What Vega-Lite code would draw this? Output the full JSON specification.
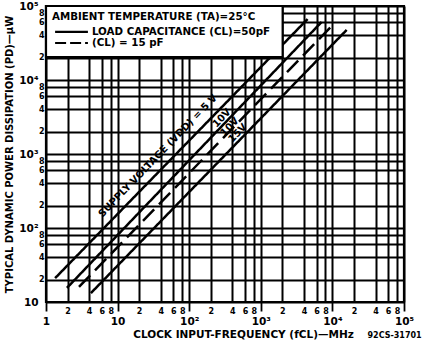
{
  "$schema": "https://vega.github.io/schema/vega-lite/v6.json",
  "width": 358,
  "height": 296,
  "autosize": "none",
  "padding": {"left": 46, "top": 6, "right": 34, "bottom": 45},
  "background": "white",
  "config": {
    "view": {"stroke": "black", "strokeWidth": 2.2},
    "font": "DejaVu Sans",
    "text": {"font": "DejaVu Sans", "fontWeight": "bold", "color": "black"}
  },
  "layer": [
    {
      "data": {"values": [
        {"id": "5V", "cap": "50pF", "f": 1.34, "p": 21},
        {"id": "5V", "cap": "50pF", "f": 4510, "p": 66700},
        {"id": "10V-50", "cap": "50pF", "f": 1.96, "p": 15.5},
        {"id": "10V-50", "cap": "50pF", "f": 7070, "p": 60800},
        {"id": "10V-15", "cap": "15pF", "f": 2.89, "p": 16},
        {"id": "10V-15", "cap": "15pF", "f": 10070, "p": 55300},
        {"id": "15V", "cap": "50pF", "f": 4.24, "p": 13.2},
        {"id": "15V", "cap": "50pF", "f": 15800, "p": 47400}
      ]},
      "mark": {"type": "line", "color": "black", "strokeWidth": 2.5, "clip": true},
      "encoding": {
        "x": {
          "field": "f", "type": "quantitative",
          "scale": {"type": "log", "domain": [1, 100000], "nice": false},
          "axis": {
            "values": [1,2,4,6,8,10,20,40,60,80,100,200,400,600,800,1000,2000,4000,6000,8000,10000,20000,40000,60000,80000,100000],
            "grid": true, "gridColor": "black", "gridWidth": 2, "gridOpacity": 1,
            "domain": false,
            "ticks": true, "tickSize": 9, "tickColor": "black", "tickWidth": 1.8,
            "tickOpacity": {"condition": {"test": "indexof([1,10,100,1000,10000,100000], datum.value) >= 0", "value": 1}, "value": 0},
            "labelExpr": "datum.value==1?'1':datum.value==10?'10':datum.value==100?'10²':datum.value==1000?'10³':datum.value==10000?'10⁴':datum.value==100000?'10⁵':slice(toString(datum.value),0,1)",
            "labelFont": "DejaVu Sans", "labelFontWeight": "bold", "labelColor": "black",
            "labelFontSize": {"condition": {"test": "indexof([1,10,100,1000,10000,100000], datum.value) >= 0", "value": 10.5}, "value": 8},
            "labelPadding": {"condition": {"test": "indexof([1,10,100,1000,10000,100000], datum.value) >= 0", "value": 5}, "value": -4},
            "labelFlush": false, "labelOverlap": false, "labelBound": false,
            "title": "CLOCK INPUT-FREQUENCY (fCL)—MHz",
            "titleFont": "DejaVu Sans", "titleFontWeight": "bold", "titleFontSize": 10.5, "titleColor": "black",
            "titleX": 197, "titleY": 32, "titleBaseline": "middle", "titleAnchor": null
          }
        },
        "y": {
          "field": "p", "type": "quantitative",
          "scale": {"type": "log", "domain": [10, 100000], "nice": false},
          "axis": {
            "values": [10,20,40,60,80,100,200,400,600,800,1000,2000,4000,6000,8000,10000,20000,40000,60000,80000,100000],
            "grid": true, "gridColor": "black", "gridWidth": 2, "gridOpacity": 1,
            "domain": false, "ticks": false,
            "labelExpr": "datum.value==10?'10':datum.value==100?'10²':datum.value==1000?'10³':datum.value==10000?'10⁴':datum.value==100000?'10⁵':slice(toString(datum.value),0,1)",
            "labelFont": "DejaVu Sans", "labelFontWeight": "bold", "labelColor": "black",
            "labelFontSize": {"condition": {"test": "indexof([10,100,1000,10000,100000], datum.value) >= 0", "value": 10.5}, "value": 8},
            "labelPadding": {"condition": {"test": "indexof([10,100,1000,10000,100000], datum.value) >= 0", "value": 8}, "value": 2},
            "labelBaseline": "middle",
            "labelFlush": false, "labelOverlap": false, "labelBound": false,
            "title": "TYPICAL DYNAMIC POWER DISSIPATION (PD)—µW",
            "titleFont": "DejaVu Sans", "titleFontWeight": "bold", "titleFontSize": 10, "titleColor": "black",
            "titleX": -37, "titleBaseline": "middle"
          }
        },
        "strokeDash": {"field": "cap", "type": "nominal", "scale": {"domain": ["50pF", "15pF"], "range": [[1, 0], [16, 7]]}, "legend": null},
        "detail": {"field": "id"}
      }
    },
    {
      "data": {"values": [{"x1": 1, "x2": 2020, "y1": 20400, "y2": 100000}]},
      "mark": {"type": "rect", "fill": "white", "stroke": "black", "strokeWidth": 2.2},
      "encoding": {
        "x": {"field": "x1", "type": "quantitative"},
        "x2": {"field": "x2"},
        "y": {"field": "y1", "type": "quantitative"},
        "y2": {"field": "y2"}
      }
    },
    {
      "data": {"values": [{"x1": 1.34, "x2": 3.85, "y": 44600}]},
      "mark": {"type": "rule", "color": "black", "strokeWidth": 2.2},
      "encoding": {
        "x": {"field": "x1", "type": "quantitative"},
        "x2": {"field": "x2"},
        "y": {"field": "y", "type": "quantitative"}
      }
    },
    {
      "data": {"values": [{"x1": 1.34, "x2": 3.85, "y": 31600}]},
      "mark": {"type": "rule", "color": "black", "strokeWidth": 2.2, "strokeDash": [11, 4]},
      "encoding": {
        "x": {"field": "x1", "type": "quantitative"},
        "x2": {"field": "x2"},
        "y": {"field": "y", "type": "quantitative"}
      }
    },
    {
      "data": {"values": [
        {"t": "AMBIENT  TEMPERATURE (TA)=25°C", "x": 1.21, "y": 71000},
        {"t": "LOAD CAPACITANCE (CL)=50pF", "x": 4.38, "y": 44600},
        {"t": "(CL) = 15 pF", "x": 4.38, "y": 31600}
      ]},
      "mark": {"type": "text", "align": "left", "baseline": "middle", "fontSize": 10.3},
      "encoding": {
        "x": {"field": "x", "type": "quantitative"},
        "y": {"field": "y", "type": "quantitative"},
        "text": {"field": "t"}
      }
    },
    {
      "data": {"values": [
        {"t": "SUPPLY VOLTAGE (VDD) = 5 V", "x": 36.5, "y": 940},
        {"t": "10V", "x": 285, "y": 3060},
        {"t": "10V", "x": 368, "y": 2320},
        {"t": "15V", "x": 476, "y": 1920}
      ]},
      "mark": {"type": "text", "align": "center", "baseline": "middle", "fontSize": 10, "angle": -46},
      "encoding": {
        "x": {"field": "x", "type": "quantitative"},
        "y": {"field": "y", "type": "quantitative"},
        "text": {"field": "t"}
      }
    },
    {
      "data": {"values": [{"t": "92CS-31701", "x": 73800, "y": 3.46}]},
      "mark": {"type": "text", "align": "center", "baseline": "middle", "fontSize": 8},
      "encoding": {
        "x": {"field": "x", "type": "quantitative"},
        "y": {"field": "y", "type": "quantitative"},
        "text": {"field": "t"}
      }
    }
  ]
}
